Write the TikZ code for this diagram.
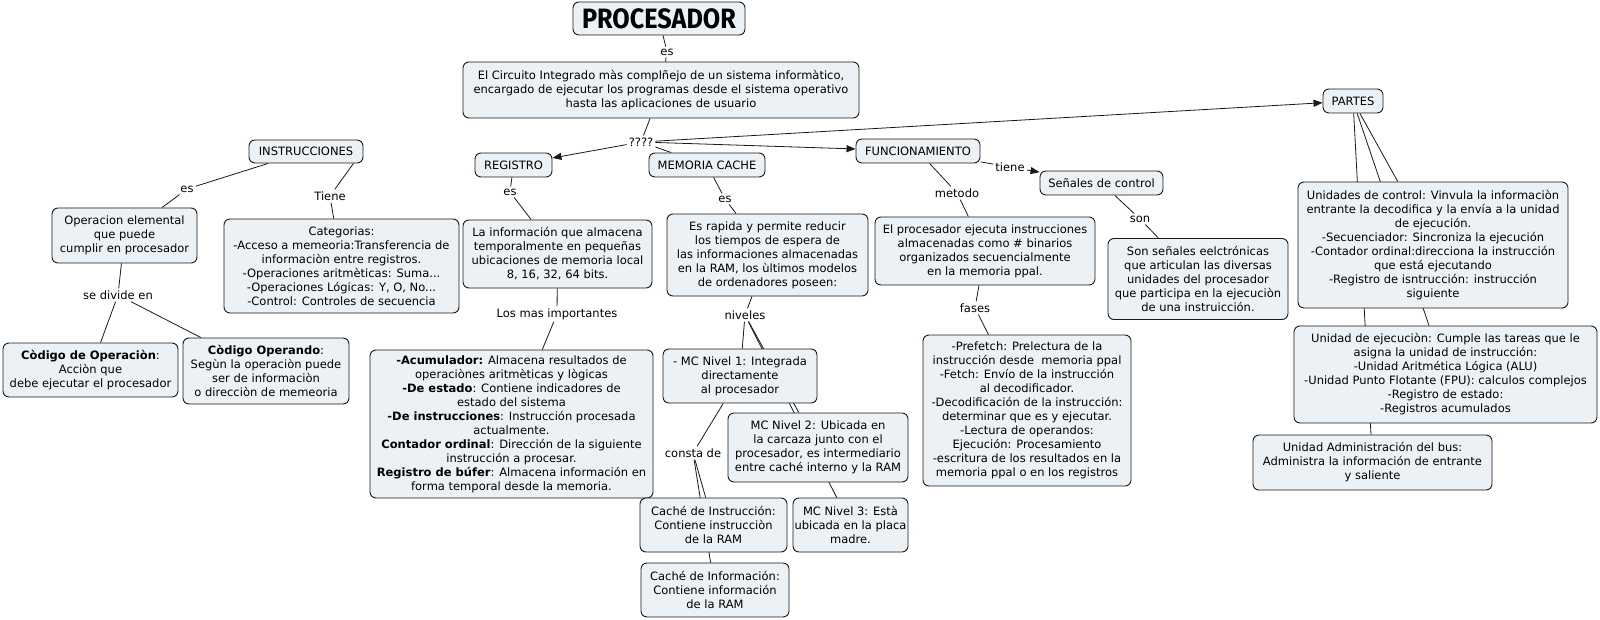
\documentclass[tikz,border=0pt]{standalone}
\usepackage{fontspec}
\setmainfont{DejaVu Sans}
\newfontfamily\titlefont{Fira Sans}
\usetikzlibrary{arrows.meta}
\pgfdeclarelayer{bg}
\pgfsetlayers{bg,main}
\definecolor{boxfill}{RGB}{235,241,244}
\definecolor{linec}{RGB}{25,25,25}
\begin{document}
\begin{tikzpicture}[x=1pt,y=-1pt,
  box/.style={draw=linec, line width=0.9pt, rounded corners=6pt, fill=boxfill, align=center, inner sep=1.5pt, font=\fontsize{11.5}{14}\selectfont},
  lbl/.style={inner sep=2pt, font=\fontsize{11.5}{13}\selectfont},
  link/.style={draw=linec, line width=0.8pt},
  arr/.style={link, -{Triangle[length=9pt,width=7pt]}}]
\useasboundingbox (0,0) rectangle (1600,620);

% main boxes
\node[box, minimum width=172, minimum height=33] (proc) at (659,18.5) {\titlefont\bfseries\fontsize{28}{30}\selectfont\scalebox{0.9}[1]{PROCESADOR}};
\node[box, minimum width=396, minimum height=56] (circ) at (661,90) {El Circuito Integrado màs complñejo de un sistema informàtico,\\encargado de ejecutar los programas desde el sistema operativo\\hasta las aplicaciones de usuario};
\node[box, minimum width=77, minimum height=24] (reg) at (513.5,165) {REGISTRO};
\node[box, minimum width=116, minimum height=24] (mem) at (707,165) {MEMORIA CACHE};
\node[box, minimum width=124, minimum height=24] (func) at (918,151) {FUNCIONAMIENTO};
\node[box, minimum width=60, minimum height=24] (partes) at (1353,101) {PARTES};
\node[box, minimum width=114, minimum height=23] (instr) at (306,151.5) {INSTRUCCIONES};
\node[box, minimum width=145, minimum height=55] (oper) at (124.5,235.5) {Operacion elemental\\que puede\\cumplir en procesador};
\node[box, minimum width=235, minimum height=94] (cat) at (341.5,266) {Categorias:\\-Acceso a memeoria:Transferencia de\\informaciòn entre registros.\\-Operaciones aritmèticas: Suma...\\-Operaciones Lógicas: Y, O, No...\\-Control: Controles de secuencia};
\node[box, minimum width=175, minimum height=54] (cod1) at (90.5,370) {\textbf{Còdigo de Operaciòn}:\\Acciòn que\\debe ejecutar el procesador};
\node[box, minimum width=166, minimum height=66] (cod2) at (266,371) {\textbf{Còdigo Operando}:\\Segùn la operaciòn puede\\ser de informaciòn\\o direcciòn de memeoria};
\node[box, minimum width=189, minimum height=68] (reginfo) at (557.5,254) {La información que almacena\\temporalmente en pequeñas\\ubicaciones de memoria local\\8, 16, 32, 64 bits.};
\node[box, minimum width=283, minimum height=148] (acum) at (511.5,424) {\textbf{-Acumulador:} Almacena resultados de\\operaciònes aritmèticas y lògicas\\\textbf{-De estado}: Contiene indicadores de\\estado del sistema\\\textbf{-De instrucciones}: Instrucción procesada\\actualmente.\\\textbf{Contador ordinal}: Dirección de la siguiente\\instrucción a procesar.\\\textbf{Registro de búfer}: Almacena información en\\forma temporal desde la memoria.};
\node[box, minimum width=201, minimum height=82] (esrap) at (767.5,255) {Es rapida y permite reducir\\los tiempos de espera de\\las informaciones almacenadas\\en la RAM, los ùltimos modelos\\de ordenadores poseen:};
\node[box, minimum width=154, minimum height=54] (mc1) at (740,376) {- MC Nivel 1: Integrada\\directamente\\al procesador};
\node[box, minimum width=180, minimum height=69] (mc2) at (818,447.5) {MC Nivel 2: Ubicada en\\la carcaza junto con el\\procesador, es intermediario\\entre caché interno y la RAM};
\node[box, minimum width=115, minimum height=54] (mc3) at (850.5,525) {MC Nivel 3: Està\\ubicada en la placa\\madre.};
\node[box, minimum width=147, minimum height=54] (ci1) at (713.5,525) {Caché de Instrucción:\\Contiene instrucciòn\\de la RAM};
\node[box, minimum width=148, minimum height=54] (ci2) at (715,590) {Caché de Información:\\Contiene información\\de la RAM};
\node[box, minimum width=220, minimum height=68] (procej) at (985,251) {El procesador ejecuta instrucciones\\almacenadas como \# binarios\\organizados secuencialmente\\en la memoria ppal.};
\node[box, minimum width=208, minimum height=151] (fasesb) at (1027,410.5) {-Prefetch: Prelectura de la\\instrucción desde~ memoria ppal\\-Fetch: Envío de la instrucción\\al decodificador.\\-Decodificación de la instrucción:\\determinar que es y ejecutar.\\-Lectura de operandos:\\Ejecución: Procesamiento\\-escritura de los resultados en la\\memoria ppal o en los registros};
\node[box, minimum width=123, minimum height=24] (senal) at (1101.5,183) {Señales de control};
\node[box, minimum width=180, minimum height=81] (sonb) at (1198,279) {Son señales eelctrónicas\\que articulan las diversas\\unidades del procesador\\que participa en la ejecuciòn\\de una instruicción.};
\node[box, minimum width=270, minimum height=126] (ctrl) at (1433,245) {Unidades de control: Vinvula la informaciòn\\entrante la decodifica y la envía a la unidad\\de ejecución.\\-Secuenciador: Sincroniza la ejecución\\-Contador ordinal:direcciona la instrucción\\que está ejecutando\\-Registro de isntrucción: instrucción\\siguiente};
\node[box, minimum width=303, minimum height=97] (exec) at (1445.5,374.5) {Unidad de ejecuciòn: Cumple las tareas que le\\asigna la unidad de instrucción:\\-Unidad Aritmética Lógica (ALU)\\-Unidad Punto Flotante (FPU): calculos complejos\\-Registro de estado:\\-Registros acumulados};
\node[box, minimum width=239, minimum height=55] (admin) at (1372.5,462.5) {Unidad Administración del bus:\\Administra la información de entrante\\y saliente};

% link labels
\node[lbl] (es1) at (667,52) {es};
\node[lbl] (q) at (641,142) {????};
\node[lbl] (esi) at (187,189) {es};
\node[lbl] (tiene1) at (330,196) {Tiene};
\node[lbl] (sediv) at (118,295) {se divide en};
\node[lbl] (esr) at (510,192) {es};
\node[lbl] (losmas) at (557,314) {Los mas importantes};
\node[lbl] (esm) at (725,199) {es};
\node[lbl] (niv) at (745,315) {niveles};
\node[lbl] (consta) at (693,453) {consta de};
\node[lbl] (metodo) at (957,193) {metodo};
\node[lbl] (fases) at (975,308) {fases};
\node[lbl] (tiene2) at (1010,167) {tiene};
\node[lbl] (son) at (1140,219) {son};

\begin{pgfonlayer}{bg}
\draw[link] (proc) -- (es1);
\draw[link] (es1) -- (circ);
\draw[link] (circ) -- (q);
\draw[arr] (q) -- (reg);
\draw[link] (q) -- (mem);
\draw[arr] (q) -- (func);
\draw[arr] (q) -- (partes);
\draw[link] (instr) -- (esi);
\draw[link] (esi) -- (oper);
\draw[link] ([xshift=-10pt]instr.south east) -- (tiene1);
\draw[link] (tiene1) -- (cat);
\draw[link] (oper) -- (sediv);
\draw[link] (sediv) -- (cod1);
\draw[link] (sediv) -- (cod2);
\draw[link] (reg) -- (esr);
\draw[link] (esr) -- (reginfo);
\draw[link] (reginfo) -- (losmas);
\draw[link] (losmas) -- (acum);
\draw[link] (mem) -- (esm);
\draw[link] (esm) -- (esrap);
\draw[link] (esrap) -- (niv);
\draw[link] (niv) -- (mc1);
\draw[link] (niv) -- (mc2);
\draw[link] (niv) -- (mc3);
\draw[link] (mc1) -- (consta);
\draw[link] (consta) -- (ci1);
\draw[link] (consta) -- (ci2);
\draw[link] (func) -- (metodo);
\draw[link] (metodo) -- (procej);
\draw[link] (procej) -- (fases);
\draw[link] (fases) -- (fasesb);
\draw[link] (func) -- (tiene2);
\draw[arr] (tiene2) -- (senal);
\draw[link] (senal) -- (son);
\draw[link] (son) -- (sonb);
\draw[link] (partes) -- (ctrl);
\draw[link] (partes) -- (exec);
\draw[link] (partes) -- (admin);
\end{pgfonlayer}
\end{tikzpicture}
\end{document}
